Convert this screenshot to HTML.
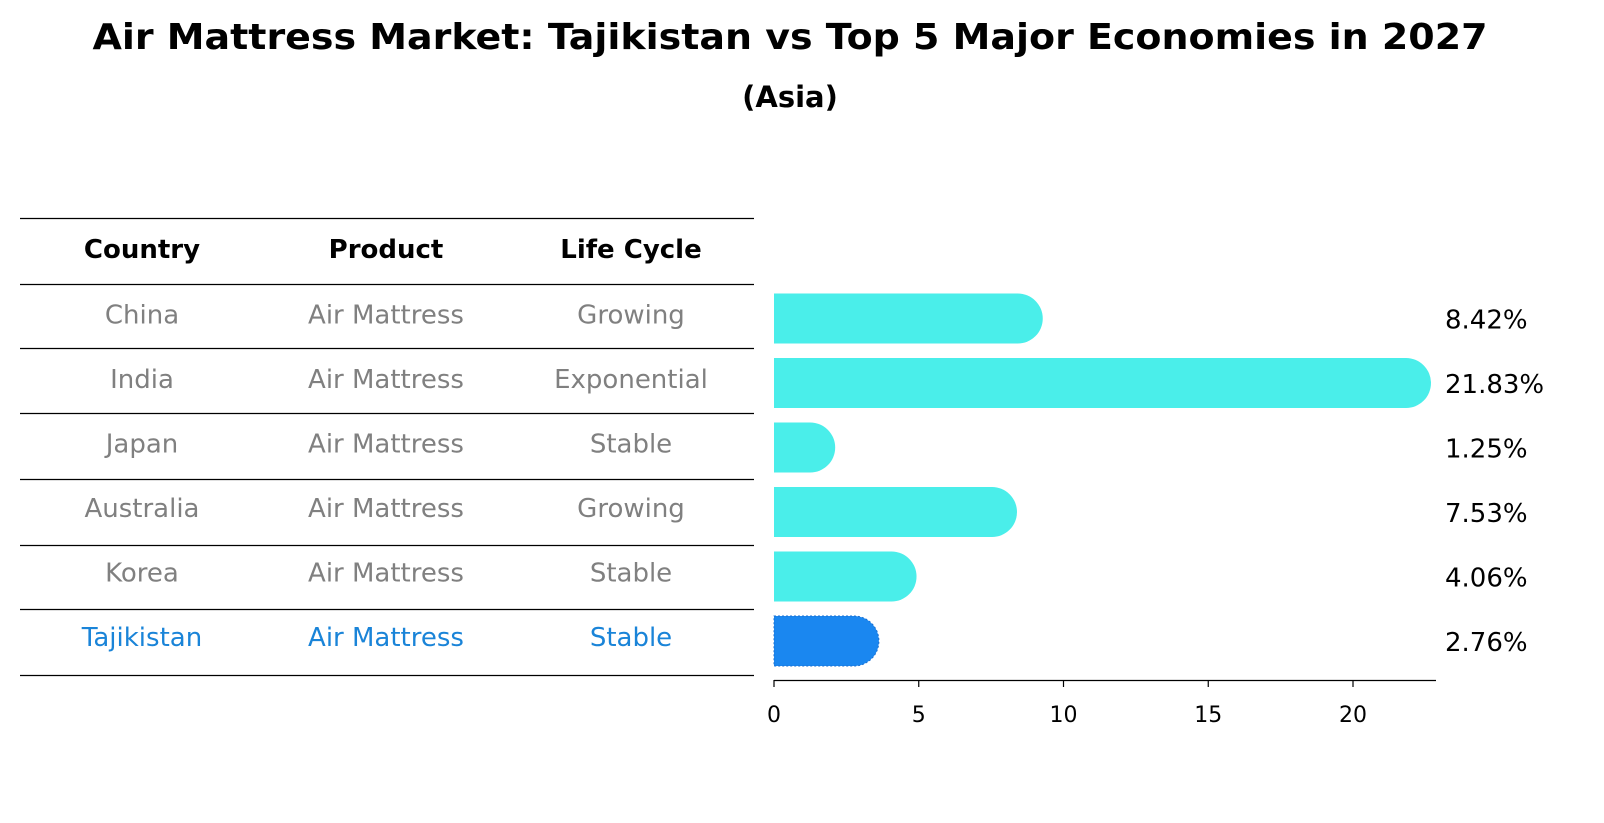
<!DOCTYPE html>
<html><head><meta charset="utf-8"><style>
body{margin:0;background:#fff;font-family:"Liberation Sans","DejaVu Sans",sans-serif;}
#wrap{position:relative;width:1604px;height:823px;overflow:hidden;}
</style></head><body>
<div id="wrap">
<svg id="svg" width="1604" height="823" xmlns="http://www.w3.org/2000/svg" font-family="DejaVu Sans, Liberation Sans, sans-serif">
<text x="790" y="49" text-anchor="middle" font-size="36" font-weight="bold" textLength="1395" lengthAdjust="spacingAndGlyphs">Air Mattress Market: Tajikistan vs Top 5 Major Economies in 2027</text>
<text x="790" y="107" text-anchor="middle" font-size="29" font-weight="bold">(Asia)</text>
<g id="table"></g>
<g id="bars"></g>
</svg>
</div>
<script>
const countries=["China","India","Japan","Australia","Korea","Tajikistan"];
const products=["Air Mattress","Air Mattress","Air Mattress","Air Mattress","Air Mattress","Air Mattress"];
const lifeCycles=["Growing","Exponential","Stable","Growing","Stable","Stable"];
const values=[8.42,21.83,1.25,7.53,4.06,2.76];
const ticks=[0,5,10,15,20];
const NS="http://www.w3.org/2000/svg";
const svg=document.getElementById('svg');
const tbl=document.getElementById('table');
const bars=document.getElementById('bars');
function mk(p,tag,a){const e=document.createElementNS(NS,tag);for(const k in a)e.setAttribute(k,a[k]);p.appendChild(e);return e;}
const x0=774,pxu=28.95;
const xs=v=>x0+v*pxu;
const rowY=i=>318.5+i*64.5;
const lineYs=[218,284,348,413,479,545,609,675];
lineYs.forEach((y,i)=>{const l=mk(tbl,'line',{x1:20,x2:754,y1:y+0.5,y2:y+0.5,stroke:'#000','stroke-width':1.2});

});
const colX=[142,386,631];
["Country","Product","Life Cycle"].forEach((h,j)=>{const t=mk(tbl,'text',{x:colX[j],y:258,'text-anchor':'middle','font-size':26,'font-weight':'bold'});t.textContent=h;

});
countries.forEach((c,i)=>{
 const col=i===countries.length-1?'#1a84d8':'#808080';
 [c,products[i],lifeCycles[i]].forEach((v,j)=>{const t=mk(tbl,'text',{x:colX[j],y:rowY(i)+5,'text-anchor':'middle','font-size':26,fill:col});t.textContent=v;
 
 });
 const last=i===countries.length-1;
 const y=rowY(i)-25,h=50,r=25,xe=xs(values[i]);
 const d=`M${x0},${y} L${xe},${y} A${r},${r} 0 0 1 ${xe},${y+h} L${x0},${y+h} Z`;
 const p=mk(bars,'path',{d:d,fill:last?'#1a87f0':'#4aeeea'});
 if(last){p.setAttribute('stroke','#1a6fd0');p.setAttribute('stroke-dasharray','2,2');}
 
 
 const t=mk(bars,'text',{x:1445,y:rowY(i)+10,'font-size':26});t.textContent=values[i].toFixed(2)+'%';
 
 
});
const ax=mk(bars,'line',{x1:x0,x2:1436,y1:680.5,y2:680.5,stroke:'#000','stroke-width':1.3});


ticks.forEach(v=>{const l=mk(bars,'line',{x1:xs(v),x2:xs(v),y1:680,y2:687,stroke:'#000','stroke-width':1.2});


const t=mk(bars,'text',{x:xs(v),y:722,'text-anchor':'middle','font-size':22});t.textContent=v;

});
</script>
</body></html>
